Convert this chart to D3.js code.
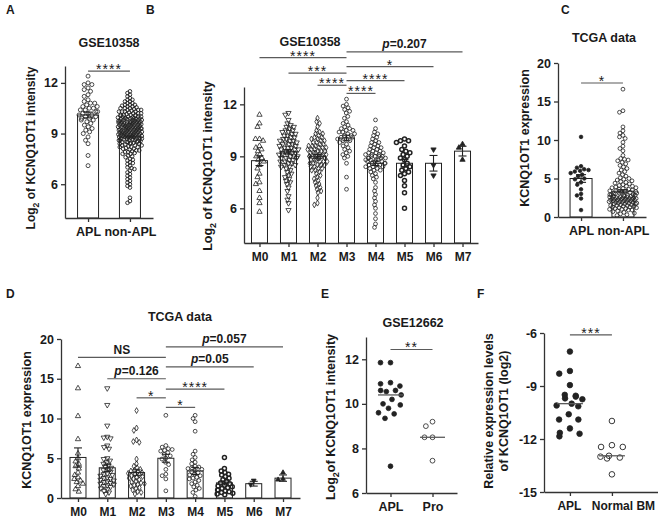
<!DOCTYPE html>
<html>
<head>
<meta charset="utf-8">
<script src="https://cdn.jsdelivr.net/npm/d3@7"></script>
<style>
  body { margin: 0; background: #fff; }
  svg text { font-family: "Liberation Sans", Arial, Helvetica, sans-serif; fill: #1a1a1a; }
</style>
</head>
<body>
<svg id="fig" width="658" height="518"></svg>
<script>
// ---------- data ----------

// A: GSE10358, APL vs non-APL
const catsA = ["APL", "non-APL"];
const gseApl = [12.4, 12.0, 11.9, 11.9, 11.7, 11.6, 11.5, 11.3, 11.2, 11.0, 10.9, 10.8, 10.8, 10.7, 10.6, 10.6,
  10.5, 10.5, 10.4, 10.4, 10.3, 10.3, 10.2, 10.2, 10.1, 10.1, 10.0, 10.0, 9.9, 9.9, 9.8, 9.8, 9.7, 9.6, 9.5,
  9.4, 9.3, 9.2, 9.1, 9.0, 8.8, 8.6, 8.4, 7.7, 7.1];
const gseNonApl = [11.5, 11.4, 11.3, 11.2, 11.1, 11.0, 11.0, 10.9, 10.9, 10.8, 10.8, 10.7, 10.7, 10.7, 10.6, 10.6,
  10.5, 10.5, 10.5, 10.4, 10.4, 10.4, 10.3, 10.3, 10.3, 10.3, 10.2, 10.2, 10.2, 10.1, 10.1, 10.1, 10.1, 10.0,
  10.0, 10.0, 10.0, 9.9, 9.9, 9.9, 9.9, 9.9, 9.8, 9.8, 9.8, 9.8, 9.7, 9.7, 9.7, 9.7, 9.7, 9.6, 9.6, 9.6, 9.6,
  9.6, 9.5, 9.5, 9.5, 9.5, 9.5, 9.4, 9.4, 9.4, 9.4, 9.4, 9.3, 9.3, 9.3, 9.3, 9.3, 9.2, 9.2, 9.2, 9.2, 9.2,
  9.1, 9.1, 9.1, 9.1, 9.1, 9.0, 9.0, 9.0, 9.0, 9.0, 8.9, 8.9, 8.9, 8.9, 8.9, 8.8, 8.8, 8.8, 8.8, 8.8, 8.7,
  8.7, 8.7, 8.7, 8.6, 8.6, 8.6, 8.6, 8.5, 8.5, 8.5, 8.5, 8.4, 8.4, 8.4, 8.3, 8.3, 8.3, 8.2, 8.2, 8.2, 8.1,
  8.1, 8.0, 8.0, 7.9, 7.9, 7.8, 7.8, 7.7, 7.6, 7.5, 7.4, 7.3, 7.2, 7.1, 7.0, 6.9, 6.8, 6.6, 6.5, 6.3, 6.1,
  6.0, 5.9, 5.8, 5.2, 5.0, 4.9,
  10.65, 10.55, 10.45, 10.35, 10.25, 10.15, 10.05, 10.05, 9.95, 9.95, 9.85, 9.85, 9.85, 9.75, 9.75, 9.75,
  9.65, 9.65, 9.65, 9.55, 9.55, 9.55, 9.45, 9.45, 9.45, 9.35, 9.35, 9.35, 9.25, 9.25, 9.25, 9.15, 9.15,
  9.15, 9.05, 9.05, 9.05, 8.95, 8.95, 8.95, 8.85, 8.85, 8.85, 8.75, 8.75, 8.65, 8.65, 8.55, 8.55, 8.45,
  8.45, 8.35, 8.25, 8.15, 8.05, 7.95, 7.85, 7.65, 7.45, 7.25, 6.95, 6.7, 6.4, 6.2];
const gseMeans = [10.1, 8.8];
const gseSem = [0.17, 0.06];

// B: GSE10358 by FAB subtype
const fab = ["M0", "M1", "M2", "M3", "M4", "M5", "M6", "M7"];
const gseM0 = [11.4, 10.9, 10.7, 10.0, 10.0, 9.9, 9.6, 9.5, 9.4, 9.3, 9.1, 9.0, 8.9, 8.8, 8.7, 8.5, 8.3, 8.0,
  7.8, 7.5, 7.4, 7.0, 6.6, 6.3, 5.8];
const gseM1 = [11.5, 11.4, 11.1, 10.9, 10.8, 10.7, 10.7, 10.6, 10.5, 10.5, 10.4, 10.4, 10.3, 10.3, 10.2, 10.2,
  10.1, 10.1, 10.0, 10.0, 9.9, 9.9, 9.9, 9.8, 9.8, 9.7, 9.7, 9.7, 9.6, 9.6, 9.5, 9.5, 9.5, 9.4, 9.4, 9.4,
  9.3, 9.3, 9.3, 9.2, 9.2, 9.2, 9.1, 9.1, 9.1, 9.0, 9.0, 9.0, 8.9, 8.9, 8.9, 8.8, 8.8, 8.7, 8.7, 8.6, 8.6,
  8.5, 8.5, 8.4, 8.4, 8.3, 8.2, 8.1, 8.0, 7.9, 7.8, 7.7, 7.6, 7.5, 7.4, 7.2, 7.0, 6.7, 6.5, 6.3, 5.9];
const gseM2 = [11.2, 11.0, 10.9, 10.7, 10.5, 10.4, 10.3, 10.3, 10.2, 10.1, 10.1, 10.0, 10.0, 9.9, 9.9, 9.8,
  9.8, 9.7, 9.7, 9.6, 9.6, 9.6, 9.5, 9.5, 9.5, 9.4, 9.4, 9.4, 9.3, 9.3, 9.3, 9.2, 9.2, 9.2, 9.1, 9.1, 9.1,
  9.0, 9.0, 9.0, 9.0, 8.9, 8.9, 8.9, 8.8, 8.8, 8.8, 8.7, 8.7, 8.7, 8.6, 8.6, 8.5, 8.5, 8.5, 8.4, 8.4, 8.3,
  8.3, 8.2, 8.2, 8.1, 8.0, 7.9, 7.8, 7.7, 7.6, 7.5, 7.4, 7.3, 7.2, 7.1, 7.0, 6.9, 6.6, 6.3, 6.2];
const gseM3 = [12.3, 12.0, 11.9, 11.8, 11.7, 11.6, 11.5, 11.3, 11.2, 11.0, 10.9, 10.8, 10.7, 10.6, 10.6, 10.5,
  10.5, 10.4, 10.4, 10.3, 10.3, 10.2, 10.2, 10.1, 10.1, 10.0, 10.0, 9.9, 9.9, 9.8, 9.7, 9.6, 9.5, 9.4, 9.3,
  9.2, 9.1, 9.0, 8.9, 8.6, 7.8, 7.1];
const gseM4 = [11.1, 10.6, 10.4, 10.3, 10.2, 10.1, 10.0, 9.9, 9.8, 9.8, 9.7, 9.6, 9.6, 9.5, 9.5, 9.4, 9.4, 9.3,
  9.3, 9.2, 9.2, 9.2, 9.1, 9.1, 9.1, 9.0, 9.0, 9.0, 9.0, 8.9, 8.9, 8.9, 8.9, 8.8, 8.8, 8.8, 8.8, 8.7, 8.7,
  8.7, 8.6, 8.6, 8.6, 8.5, 8.5, 8.5, 8.4, 8.4, 8.4, 8.3, 8.3, 8.2, 8.2, 8.1, 8.0, 7.9, 7.8, 7.7, 7.5, 7.2,
  7.0, 6.8, 6.6, 6.4, 6.2, 6.0, 5.7, 5.4, 5.1, 4.9];
const gseM5 = [10.0, 9.9, 9.9, 9.8, 9.6, 9.4, 9.3, 9.2, 9.1, 9.0, 8.9, 8.8, 8.6, 8.5, 8.4, 8.3, 8.2, 8.1, 8.0,
  7.9, 7.6, 7.3, 6.9, 6.0];
const gseM6 = [9.4, 8.5, 7.9];
const gseM7 = [9.7, 9.5, 8.8];
const gseFabMeans = [8.75, 9.25, 9.0, 10.06, 8.6, 8.6, 8.6, 9.3];
const gseFabSem = [0.28, 0.12, 0.11, 0.16, 0.13, 0.22, 0.45, 0.28];

// C: TCGA, APL vs non-APL
const tcgaApl = [10.4, 6.6, 6.4, 6.2, 6.1, 6.0, 5.9, 5.7, 5.5, 5.3, 5.0, 4.9, 4.5, 4.2, 3.6, 3.0, 2.8, 2.4, 0.9];
const tcgaNonApl = [16.6, 13.8, 13.6, 11.7, 11.2, 10.9, 10.6, 10.4, 10.2, 9.7, 9.2, 8.9, 8.6, 8.0, 7.6, 7.5,
  7.4, 7.3, 7.1, 6.9, 6.7, 6.5, 6.3, 6.1, 5.9, 5.7, 5.5, 5.3, 5.1, 5.0, 4.9, 4.8, 4.7, 4.6, 4.5, 4.4, 4.3,
  4.2, 4.1, 4.0, 4.0, 3.9, 3.8, 3.8, 3.7, 3.6, 3.6, 3.5, 3.4, 3.4, 3.3, 3.3, 3.2, 3.2, 3.1, 3.1, 3.0, 3.0,
  2.9, 2.9, 2.9, 2.8, 2.8, 2.8, 2.7, 2.7, 2.7, 2.6, 2.6, 2.6, 2.5, 2.5, 2.5, 2.4, 2.4, 2.4, 2.4, 2.3, 2.3,
  2.3, 2.3, 2.2, 2.2, 2.2, 2.2, 2.1, 2.1, 2.1, 2.0, 2.0, 2.0, 1.9, 1.9, 1.9, 1.8, 1.8, 1.8, 1.7, 1.7, 1.7,
  1.6, 1.6, 1.5, 1.5, 1.5, 1.4, 1.4, 1.3, 1.3, 1.2, 1.2, 1.1, 1.1, 1.0, 1.0, 0.9, 0.9, 0.8, 0.7, 0.6, 0.5,
  0.4, 0.3, 0.2];
const tcgaMeans = [5.0, 3.35];
const tcgaSem = [0.5, 0.2];

// D: TCGA by FAB subtype
const tcgaM0 = [16.6, 13.8, 10.3, 7.4, 5.6, 5.0, 4.6, 4.3, 4.0, 3.7, 3.2, 2.9, 2.6, 2.4, 2.2, 2.0, 1.8, 1.5, 1.1, 0.8];
const tcgaM1 = [13.8, 11.7, 9.1, 7.7, 7.6, 7.5, 6.6, 6.4, 6.2, 5.0, 4.9, 4.7, 4.5, 4.3, 4.1, 3.9, 3.8, 3.6, 3.5,
  3.3, 3.1, 3.0, 2.9, 2.8, 2.6, 2.5, 2.4, 2.3, 2.2, 2.1, 2.0, 1.9, 1.8, 1.7, 1.6, 1.5, 1.4, 1.2, 1.1, 0.9, 0.7, 0.5];
const tcgaM2 = [11.0, 8.8, 8.5, 7.3, 7.1, 7.0, 4.9, 4.3, 4.0, 3.8, 3.6, 3.5, 3.4, 3.3, 3.2, 3.1, 3.0, 2.9, 2.8,
  2.7, 2.6, 2.5, 2.4, 2.3, 2.1, 2.0, 1.9, 1.8, 1.7, 1.6, 1.5, 1.3, 1.2, 1.0, 0.8, 0.7, 0.5];
const tcgaM3 = [10.4, 6.6, 6.4, 6.2, 6.1, 6.0, 5.9, 5.7, 5.5, 5.3, 5.0, 4.9, 4.5, 4.2, 3.6, 3.0, 2.8, 2.4, 0.9];
const tcgaM4 = [10.4, 10.0, 9.6, 8.4, 5.9, 5.5, 5.1, 4.8, 4.5, 4.3, 4.0, 3.9, 3.8, 3.7, 3.6, 3.5, 3.3, 3.2, 3.0,
  2.9, 2.8, 2.6, 2.5, 2.4, 2.2, 2.0, 1.8, 1.6, 1.4, 1.2, 1.0, 0.7, 0.2];
const tcgaM5 = [5.1, 3.7, 3.4, 3.2, 3.0, 2.9, 2.7, 2.5, 2.3, 2.1, 1.9, 1.8, 1.6, 1.5, 1.4, 1.3, 1.2, 1.0, 0.9,
  0.8, 0.7, 0.6, 0.5, 0.4];
const tcgaM6 = [2.2, 1.7];
const tcgaM7 = [3.2, 2.4, 2.3];
const tcgaFabMeans = [5.1, 3.8, 3.2, 5.0, 3.4, 1.9, 1.8, 2.5];
const tcgaFabSem = [1.2, 0.45, 0.35, 0.5, 0.45, 0.25, 0.3, 0.4];

// E: GSE12662, APL vs promyelocytes
const catsE = ["APL", "Pro"];
const gse12662Apl = [11.85, 11.85, 10.95, 10.9, 10.8, 10.6, 10.6, 10.55, 10.4, 10.2, 10.0, 9.95, 9.8, 9.6, 9.55, 9.35, 7.2];
const gse12662Pro = [9.2, 9.0, 8.5, 8.5, 7.45];

// F: qPCR, APL vs normal bone marrow
const catsF = ["APL", "Normal BM"];
const qpcrApl = [-7.05, -8.15, -8.3, -8.95, -9.5, -9.55, -9.6, -9.7, -9.75, -10.0, -10.1, -10.15, -10.6,
  -10.9, -10.9, -11.4, -11.65, -11.7, -11.85];
const qpcrNbm = [-10.98, -12.35, -12.45, -12.45, -12.95, -13.0, -13.05, -13.1, -14.0];

// ---------- drawing ----------
const svg = d3.select("#fig");
const INK = "#222";
const LINE = "#5a5a5a";

// simple beeswarm: x offset for every point, clamped to half width (overflow overlaps)
function swarm(vals, y, cr, half) {
  const d = 2 * cr;
  const pts = vals.map(v => ({ v, py: y(v) })).sort((a, b) => a.py - b.py);
  const placed = [];
  pts.forEach((p, i) => {
    const near = placed.filter(q => Math.abs(q.py - p.py) < d);
    const cands = [0];
    near.forEach(q => {
      const w = Math.sqrt(d * d - (q.py - p.py) ** 2);
      cands.push(q.dx - w, q.dx + w);
    });
    cands.sort((a, b) => Math.abs(a) - Math.abs(b));
    let best = null;
    for (const c of cands) {
      if (Math.abs(c) > half) break;
      if (near.every(q => (q.dx - c) ** 2 + (q.py - p.py) ** 2 >= d * d - 0.01)) { best = c; break; }
    }
    if (best === null) best = ((i * 0.618034) % 1 * 2 - 1) * half;
    p.dx = best;
    placed.push(p);
  });
  return pts;
}

function drawMark(g, st, cx, cy) {
  const fill = st.fill ? INK : "none";
  if (st.shape === "circle") {
    g.append("circle").attr("cx", cx).attr("cy", cy).attr("r", st.r)
      .attr("fill", fill).attr("stroke", INK).attr("stroke-width", st.sw || 0.8);
  } else {
    const type = st.shape === "diamond" ? d3.symbolDiamond : d3.symbolTriangle;
    const rot = st.shape === "triangleDown" ? " rotate(180)" : "";
    g.append("path").attr("d", d3.symbol().type(type).size(st.size)())
      .attr("transform", `translate(${cx},${cy})${rot}`)
      .attr("fill", fill).attr("stroke", INK).attr("stroke-width", st.sw || 0.8);
  }
}

function vLabel(g, x, y, size, parts) {
  const t = g.append("text").attr("transform", `translate(${x},${y}) rotate(-90)`)
    .attr("text-anchor", "middle").attr("font-weight", "bold").attr("font-size", size);
  parts.forEach(p => {
    const s = t.append("tspan").text(p.t);
    if (p.sub) s.attr("font-size", size * 0.72).attr("dy", 4);
    if (p.back) s.attr("dy", -4);
  });
  return t;
}

function panel(c) {
  const g = svg.append("g");
  const x = d3.scalePoint().domain(c.cats).range(c.xr).padding(c.pad).align(c.align ?? 0.5);
  const y = d3.scaleLinear().domain(c.yd).range(c.yr);
  const base = c.yd[0];

  if (c.means) {
    g.selectAll("rect.bar").data(c.means).join("rect").attr("class", "bar")
      .attr("x", (d, i) => x(c.cats[i]) - c.barW / 2).attr("width", c.barW)
      .attr("y", d => y(d)).attr("height", d => y(base) - y(d))
      .attr("fill", "#fff").attr("stroke", INK).attr("stroke-width", 1);
  }

  c.groups.forEach((vals, i) => {
    const st = c.styles[i];
    const cx = x(c.cats[i]);
    swarm(vals, y, st.cr, st.half).forEach(p => drawMark(g, st, cx + p.dx, p.py));
  });

  if (c.sem) {
    c.means.forEach((m, i) => {
      const cx = x(c.cats[i]);
      const lo = y(m - c.sem[i]), hi = y(m + c.sem[i]);
      g.append("line").attr("x1", cx).attr("x2", cx).attr("y1", lo).attr("y2", hi);
      [lo, hi].forEach(yy => g.append("line").attr("x1", cx - c.cap).attr("x2", cx + c.cap)
        .attr("y1", yy).attr("y2", yy));
    });
    g.selectAll("line").attr("stroke", INK).attr("stroke-width", 1.1);
  }

  if (c.median) {
    c.groups.forEach((vals, i) => {
      const cx = x(c.cats[i]);
      const m = y(d3.median(vals));
      g.append("line").attr("x1", cx - c.medW).attr("x2", cx + c.medW).attr("y1", m).attr("y2", m)
        .attr("stroke", LINE).attr("stroke-width", 1.3);
    });
  }

  const ax = g.append("g").attr("transform", `translate(0,${c.yr[0]})`)
    .call(d3.axisBottom(x).tickSize(4).tickPadding(5).tickSizeOuter(0));
  const ay = g.append("g").attr("transform", `translate(${c.xr[0]},0)`)
    .call(d3.axisLeft(y).tickValues(c.ticks).tickFormat(d => String(d)).tickSize(4).tickPadding(3).tickSizeOuter(0));
  [ax, ay].forEach(a => {
    a.attr("color", "#333").attr("font-family", null).attr("font-weight", "bold");
    a.selectAll("path, line").attr("stroke-width", 1.3);
  });
  ax.attr("font-size", c.xFont || 12.5);
  ay.attr("font-size", 12.5);
  if (c.xShift) ax.selectAll(".tick text").attr("dx", (d, i) => c.xShift[i]);

  (c.sig || []).forEach(([a, b, v, lab]) => {
    const x1 = x(a), x2 = x(b), yy = y(v);
    g.append("line").attr("x1", x1).attr("x2", x2).attr("y1", yy).attr("y2", yy)
      .attr("stroke", LINE).attr("stroke-width", 1.2);
    const t = g.append("text").attr("x", (x1 + x2) / 2).attr("text-anchor", "middle");
    if (lab.startsWith("p=")) {
      t.attr("y", yy - 3.5).attr("font-size", 12).attr("font-weight", "bold");
      t.append("tspan").attr("font-style", "italic").text("p");
      t.append("tspan").text(lab.slice(1));
    } else if (lab === "NS") {
      t.attr("y", yy - 3.5).attr("font-size", 12).attr("font-weight", "bold").text(lab);
    } else {
      t.attr("y", yy + 3).attr("font-size", 14).attr("letter-spacing", 1).text(lab);
    }
  });

  if (c.title) {
    g.append("text").attr("x", c.title[1]).attr("y", c.title[2]).attr("text-anchor", "middle")
      .attr("font-size", 12.5).attr("font-weight", "bold").text(c.title[0]);
  }
  g.append("text").attr("x", c.letter[1]).attr("y", c.letter[2])
    .attr("font-size", 12).attr("font-weight", "bold").text(c.letter[0]);
  c.ylab.forEach(l => vLabel(g, l.x, l.y, l.size, l.parts));
}

const logLabel = [{ t: "Log" }, { t: "2", sub: true }, { t: " of KCNQ1OT1 intensity", back: true }];
const open = (r, cr, half, sw) => ({ shape: "circle", r, cr, half, sw });
const filled = (r, cr, half) => ({ shape: "circle", r, cr, half, fill: true });
const sym = (shape, size, cr, half, fill) => ({ shape, size, cr, half, fill });

// A
panel({
  cats: catsA, xr: [65, 153], pad: 0.55, yd: [4, 13], yr: [218, 66], ticks: [6, 9, 12],
  groups: [gseApl, gseNonApl], means: gseMeans, sem: gseSem, barW: 21, cap: 5,
  styles: [open(2, 2.1, 10, 0.8), open(1.8, 1.5, 12, 0.9)],
  sig: [["APL", "non-APL", 12.7, "****"]],
  title: ["GSE10358", 109, 47], letter: ["A", 6, 14],
  ylab: [{ x: 35, y: 148, size: 12, parts: logLabel }]
});

// B
panel({
  cats: fab, xr: [244, 478], pad: 0.534, yd: [4, 13], yr: [243, 87], ticks: [6, 9, 12], xFont: 12,
  groups: [gseM0, gseM1, gseM2, gseM3, gseM4, gseM5, gseM6, gseM7],
  means: gseFabMeans, sem: gseFabSem, barW: 16, cap: 4,
  styles: [sym("triangle", 12, 2.0, 8), sym("triangleDown", 12, 1.8, 10), sym("diamond", 10, 1.8, 10),
    open(1.9, 1.9, 9, 0.8), open(1.9, 1.8, 10, 0.8), open(2, 2.2, 9, 1.5),
    sym("triangleDown", 12, 2.5, 5, true), sym("triangle", 12, 2.5, 5, true)],
  sig: [["M3", "M7", 15.03, "p=0.207"], ["M0", "M3", 14.69, "****"], ["M3", "M6", 14.17, "*"],
    ["M1", "M3", 13.8, "***"], ["M3", "M5", 13.37, "****"], ["M2", "M3", 13.1, "****"],
    ["M3", "M4", 12.63, "****"]],
  title: ["GSE10358", 310, 46], letter: ["B", 146, 14],
  ylab: [{ x: 212, y: 166, size: 12.5, parts: logLabel }]
});

// C
panel({
  cats: catsA, xr: [558, 646], pad: 0.55, yd: [0, 20], yr: [217, 63], ticks: [0, 5, 10, 15, 20],
  groups: [tcgaApl, tcgaNonApl], means: tcgaMeans, sem: tcgaSem, barW: 22, cap: 5,
  styles: [filled(1.8, 2.2, 11), open(1.9, 1.9, 14, 0.8)],
  sig: [["APL", "non-APL", 17.4, "*"]],
  title: ["TCGA data", 604, 42], letter: ["C", 561, 14],
  ylab: [{ x: 529, y: 138, size: 12.5, parts: [{ t: "KCNQ1OT1 expression" }] }]
});

// D
panel({
  cats: fab, xr: [61, 300], pad: 0.58, yd: [0, 20], yr: [498, 339], ticks: [0, 5, 10, 15, 20], xFont: 12,
  groups: [tcgaM0, tcgaM1, tcgaM2, tcgaM3, tcgaM4, tcgaM5, tcgaM6, tcgaM7],
  means: tcgaFabMeans, sem: tcgaFabSem, barW: 16, cap: 4,
  styles: [sym("triangle", 12, 2.0, 7), sym("triangleDown", 12, 1.8, 10), sym("diamond", 10, 1.8, 10),
    open(1.9, 2.0, 10, 0.8), open(1.9, 1.9, 10, 0.8), open(2, 2.0, 10, 1.5),
    sym("triangleDown", 10, 2.5, 5, true), sym("triangle", 10, 2.5, 5, true)],
  sig: [["M3", "M7", 19.0, "p=0.057"], ["M0", "M3", 17.7, "NS"], ["M3", "M6", 16.5, "p=0.05"],
    ["M1", "M3", 15.0, "p=0.126"], ["M3", "M5", 13.7, "****"], ["M2", "M3", 12.6, "*"],
    ["M3", "M4", 11.4, "*"]],
  title: ["TCGA data", 180, 321], letter: ["D", 6, 298],
  ylab: [{ x: 31, y: 420, size: 12.5, parts: [{ t: "KCNQ1OT1 expression" }] }]
});

// E
panel({
  cats: catsE, xr: [366, 457], pad: 0.583, yd: [6, 13], yr: [493, 337], ticks: [6, 8, 10, 12],
  groups: [gse12662Apl, gse12662Pro], median: true, medW: 12.5,
  styles: [filled(2.4, 5, 12), open(2.4, 4, 10, 0.8)],
  sig: [["APL", "Pro", 12.44, "**"]],
  title: ["GSE12662", 413, 327], letter: ["E", 321, 298],
  ylab: [{ x: 335, y: 417, size: 12.5, parts: [{ t: "Log" }, { t: "2", sub: true }, { t: "of KCNQ1OT1 intensity", back: true }] }]
});

// F
panel({
  cats: catsF, xr: [544, 658], pad: 0.857, align: 0.36, yd: [-15, -6], yr: [492, 333], ticks: [-15, -12, -9, -6],
  groups: [qpcrApl, qpcrNbm], median: true, medW: 13, xShift: [-1, 11], xFont: 12,
  styles: [filled(2.8, 5.5, 14), open(2.8, 5.5, 14, 0.9)],
  sig: [["APL", "Normal BM", -6.11, "***"]],
  letter: ["F", 477, 298],
  ylab: [{ x: 493, y: 411, size: 12.5, parts: [{ t: "Relative expression levels" }] },
         { x: 508, y: 411, size: 12.5, parts: [{ t: "of KCNQ1OT1 (log2)" }] }]
});
</script>
</body>
</html>
